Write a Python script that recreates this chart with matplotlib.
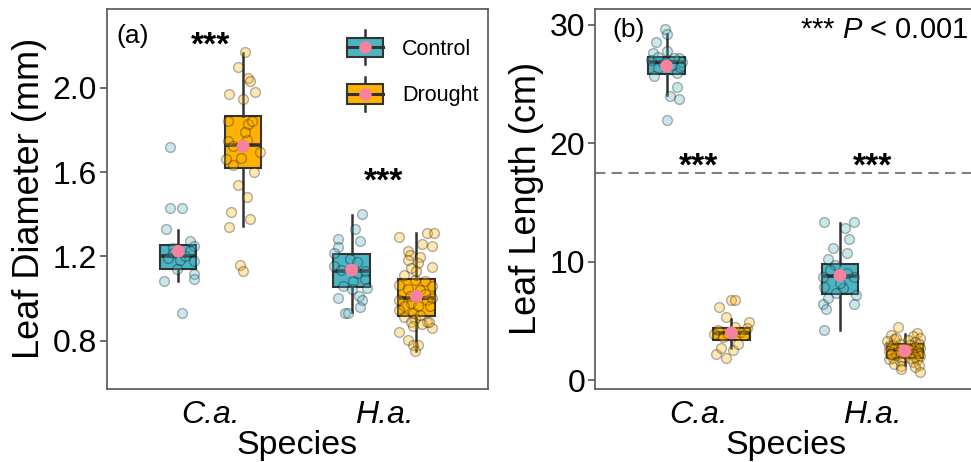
# Leaf diameter / leaf length under control vs drought, two species
import matplotlib
matplotlib.use('Agg')
import matplotlib.pyplot as plt
from matplotlib.legend_handler import HandlerBase
from matplotlib.patches import Rectangle, Patch
from matplotlib.lines import Line2D

plt.rcParams['font.family'] = ['Liberation Sans', 'DejaVu Sans']
plt.rcParams['mathtext.fontset'] = 'custom'
plt.rcParams['mathtext.rm'] = 'Liberation Sans'
plt.rcParams['mathtext.it'] = 'Liberation Sans:italic'

species = ['C.a.', 'H.a.']
treatments = ['Control', 'Drought']

# ---- box statistics: [C.a., H.a.] ----
# (a) leaf diameter, mm
dia_ctrl_whislo = [1.081, 0.934]
dia_ctrl_q1 = [1.140, 1.055]
dia_ctrl_med = [1.200, 1.132]
dia_ctrl_q3 = [1.252, 1.211]
dia_ctrl_whishi = [1.327, 1.398]
dia_ctrl_mean = [1.224, 1.135]

dia_drt_whislo = [1.343, 0.749]
dia_drt_q1 = [1.620, 0.918]
dia_drt_med = [1.727, 1.002]
dia_drt_q3 = [1.868, 1.093]
dia_drt_whishi = [2.166, 1.311]
dia_drt_mean = [1.723, 1.010]

# (b) leaf length, cm
len_ctrl_whislo = [24.09, 4.23]
len_ctrl_q1 = [25.87, 7.27]
len_ctrl_med = [26.90, 8.79]
len_ctrl_q3 = [27.30, 9.80]
len_ctrl_whishi = [29.20, 13.30]
len_ctrl_mean = [26.52, 8.85]

len_drt_whislo = [2.68, 1.27]
len_drt_q1 = [3.38, 1.92]
len_drt_med = [3.95, 2.54]
len_drt_q3 = [4.42, 3.04]
len_drt_whishi = [5.21, 3.94]
len_drt_mean = [4.00, 2.48]

# ---- individual observations (value, jitter offset) ----
dia_ca_ctrl = [1.72, 1.43, 1.43, 1.33, 1.271, 1.25, 1.24, 1.216, 1.224, 1.184,
               1.176, 1.14, 1.118, 1.094, 1.081, 0.93, 1.20, 1.19]
dia_ca_ctrl_jit = [-0.05, -0.05, 0.02, -0.07, 0.07, 0.09, -0.03, -0.03, 0.07, 0.01,
                   0.09, -0.01, 0.09, 0.09, -0.08, 0.02, 0.04, -0.06]
dia_ca_drt = [2.171, 2.10, 2.048, 2.031, 1.972, 1.949, 1.981, 1.841, 1.83, 1.841,
              1.746, 1.723, 1.667, 1.696, 1.663, 1.636, 1.599, 1.54, 1.48, 1.411,
              1.379, 1.34, 1.16, 1.13, 1.754, 1.79]
dia_ca_drt_jit = [0.01, -0.03, 0.03, 0.04, -0.08, 0.0, 0.07, -0.09, 0.03, 0.05,
                  -0.09, -0.06, -0.01, 0.10, -0.10, -0.06, 0.06, -0.03, 0.02, -0.07,
                  0.04, -0.08, -0.02, 0.0, 0.02, 0.01]
dia_ha_ctrl = [1.40, 1.331, 1.284, 1.271, 1.243, 1.216, 1.189, 1.173, 1.152, 1.133,
               1.094, 1.081, 1.06, 1.05, 1.045, 1.002, 1.013, 0.994, 0.96, 0.93,
               0.93, 1.121, 1.129]
dia_ha_ctrl_jit = [0.06, 0.02, -0.08, 0.05, -0.08, -0.10, -0.01, 0.03, -0.10, -0.06,
                   0.08, 0.01, -0.05, 0.09, 0.0, -0.08, 0.04, 0.06, 0.05, -0.04,
                   -0.02, 0.03, 0.08]
dia_ha_drt = [1.292, 1.311, 1.311, 1.258, 1.25, 1.224, 1.208, 1.197, 1.184, 1.168,
              1.145, 1.15, 1.129, 1.113, 1.089, 1.081, 1.066, 1.06, 1.045, 1.038,
              0.994, 0.994, 1.002, 0.979, 0.963, 0.963, 0.963, 0.944, 0.93, 0.914,
              0.901, 0.89, 0.89, 0.861, 0.843, 0.867, 0.88, 0.804, 0.781, 0.781,
              0.749, 0.89, 1.02, 1.01, 0.92]
dia_ha_drt_jit = [-0.10, 0.06, 0.10, 0.03, 0.09, -0.05, -0.04, 0.02, -0.05, 0.01,
                  -0.03, 0.09, 0.0, -0.07, -0.01, 0.05, -0.10, 0.09, -0.05, 0.02,
                  -0.10, 0.06, 0.09, -0.03, -0.07, 0.01, 0.08, -0.10, -0.02, -0.07,
                  -0.01, 0.06, -0.03, 0.09, -0.10, -0.02, 0.03, -0.05, 0.01, -0.02,
                  -0.01, 0.07, 0.05, -0.04, 0.02]

len_ca_ctrl = [29.64, 29.22, 28.54, 27.6, 27.75, 27.19, 27.05, 26.9, 26.35, 25.92,
               25.64, 24.74, 23.75, 23.95, 21.98, 26.8, 26.6, 26.4, 27.2, 27.3]
len_ca_ctrl_jit = [-0.01, 0.0, -0.06, -0.08, 0.0, 0.07, -0.09, 0.09, -0.05, 0.06,
                   -0.07, 0.06, 0.07, 0.02, 0.0, -0.02, 0.03, 0.08, 0.04, -0.05]
len_ca_drt = [6.2, 6.76, 6.76, 5.35, 4.93, 4.23, 4.37, 2.54, 2.25, 1.92,
              2.68, 3.1, 4.08, 3.66, 3.94, 3.8, 3.94, 4.5]
len_ca_drt_jit = [-0.07, 0.0, 0.02, -0.03, 0.10, -0.08, 0.09, 0.01, -0.09, -0.03,
                  -0.06, 0.04, 0.05, -0.05, -0.02, 0.07, -0.10, 0.02]
len_ha_ctrl = [13.33, 13.33, 12.82, 11.92, 11.13, 10.71, 10.2, 9.72, 8.73, 8.73,
               7.89, 7.75, 7.19, 7.33, 6.42, 6.42, 6.9, 5.98, 4.23, 9.3,
               9.02, 8.17]
len_ha_ctrl_jit = [-0.09, 0.08, 0.03, 0.05, -0.04, 0.04, -0.07, -0.03, -0.10, 0.08,
                   -0.09, 0.02, 0.09, -0.02, -0.10, 0.08, -0.07, -0.08, -0.09, -0.06,
                   0.04, 0.0]
len_ha_drt = [4.51, 3.95, 3.8, 3.7, 3.6, 3.5, 3.4, 3.3, 3.2, 3.1,
              3.05, 3.0, 2.95, 2.9, 2.8, 2.75, 2.7, 2.6, 2.55, 2.5,
              2.45, 2.4, 2.35, 2.3, 2.25, 2.2, 2.1, 2.05, 2.0, 1.95,
              1.9, 1.85, 1.8, 1.7, 1.6, 1.5, 1.4, 1.3, 1.2, 1.12,
              0.99, 0.7, 3.6, 2.6, 2.2]
len_ha_drt_jit = [-0.04, 0.07, -0.08, 0.05, 0.09, -0.06, 0.02, -0.10, 0.06, -0.03,
                  0.08, -0.07, 0.03, -0.09, 0.06, -0.02, 0.09, -0.06, 0.04, -0.09,
                  0.07, -0.04, 0.01, 0.08, -0.08, 0.05, -0.05, 0.09, -0.01, 0.06,
                  -0.07, 0.03, -0.09, 0.07, -0.03, 0.05, -0.06, 0.08, -0.02, 0.06,
                  -0.02, 0.09, -0.05, 0.02, -0.08]

CTRL = '#4CB5C4'
DRT = '#FFB300'
MEAN = '#F7829F'
EDGE = '#333333'
SPINE = '#555555'
DODGE = 0.187
BOXW = 0.21


def box_stats(lo, q1, med, q3, hi, mean):
    return [dict(whislo=lo[i], q1=q1[i], med=med[i], q3=q3[i], whishi=hi[i],
                 mean=mean[i], fliers=[]) for i in range(len(lo))]


def draw_group(ax, stats, pos, color, obs, jits):
    ax.bxp(stats, positions=pos, widths=BOXW, patch_artist=True,
           showfliers=False, showcaps=False, showmeans=False,
           boxprops=dict(facecolor=color, edgecolor=EDGE, linewidth=1.5),
           medianprops=dict(color=EDGE, linewidth=2.6),
           whiskerprops=dict(color=EDGE, linewidth=1.8), zorder=2)
    for p, vals, jit in zip(pos, obs, jits):
        ax.scatter([p + j for j in jit], vals, s=50, facecolor=color,
                   edgecolor='black', linewidths=1.0, alpha=0.3, zorder=3)
    ax.scatter(pos, [s['mean'] for s in stats], s=85, color=MEAN,
               edgecolor='none', zorder=4)


class BoxHandler(HandlerBase):
    def create_artists(self, legend, orig_handle, xdescent, ydescent,
                       width, height, fontsize, trans):
        fc = orig_handle.get_facecolor()
        x0, y0 = -xdescent, -ydescent
        cx, cy = x0 + width / 2, y0 + height / 2
        whisk = Line2D([cx, cx], [y0 - 0.38 * height, y0 + 1.38 * height],
                       color=EDGE, lw=1.8, transform=trans)
        box = Rectangle((x0, y0), width, height, facecolor=fc, edgecolor=EDGE,
                        lw=1.5, transform=trans)
        med = Line2D([x0, x0 + width], [cy, cy], color=EDGE, lw=2.2,
                     transform=trans)
        dot = Line2D([cx], [cy], marker='o', ms=9, color=MEAN, lw=0,
                     markeredgewidth=0, transform=trans)
        return [whisk, box, med, dot]


def style_axes(ax, ylabel, yticks, ylim):
    ax.set_xlim(0.4, 2.6)
    ax.set_ylim(*ylim)
    ax.set_xticks([1, 2])
    ax.set_xticklabels(species, style='italic')
    ax.set_yticks(yticks)
    ax.tick_params(axis='x', length=0, pad=8, labelsize=23)
    ax.tick_params(axis='y', length=5, width=1.2, color=SPINE, pad=2,
                   labelsize=23)
    for sp in ax.spines.values():
        sp.set_color(SPINE)
        sp.set_linewidth(1.2)
    ax.set_xlabel('Species', fontsize=24.5, labelpad=0)
    ax.set_ylabel(ylabel, fontsize=26, labelpad=4)


fig = plt.figure(figsize=(9.71, 4.62), dpi=100)
ax1 = fig.add_axes([0.1099, 0.159, 0.3927, 0.8214])
ax2 = fig.add_axes([0.6128, 0.159, 0.3927, 0.8214])

pos_ctrl = [1 - DODGE, 2 - DODGE]
pos_drt = [1 + DODGE, 2 + DODGE]

# (a) leaf diameter
draw_group(ax1, box_stats(dia_ctrl_whislo, dia_ctrl_q1, dia_ctrl_med, dia_ctrl_q3,
                          dia_ctrl_whishi, dia_ctrl_mean),
           pos_ctrl, CTRL, [dia_ca_ctrl, dia_ha_ctrl], [dia_ca_ctrl_jit, dia_ha_ctrl_jit])
draw_group(ax1, box_stats(dia_drt_whislo, dia_drt_q1, dia_drt_med, dia_drt_q3,
                          dia_drt_whishi, dia_drt_mean),
           pos_drt, DRT, [dia_ca_drt, dia_ha_drt], [dia_ca_drt_jit, dia_ha_drt_jit])
style_axes(ax1, 'Leaf Diameter (mm)', [0.8, 1.2, 1.6, 2.0], (0.572, 2.375))
ax1.set_yticklabels(['0.8', '1.2', '1.6', '2.0'])
ax1.text(1, 2.20, '***', ha='center', va='center', fontsize=24, fontweight='bold')
ax1.text(2, 1.555, '***', ha='center', va='center', fontsize=24, fontweight='bold')
ax1.text(0.025, 0.93, '(a)', transform=ax1.transAxes, ha='left', va='center',
         fontsize=19)
handles = [Patch(facecolor=CTRL), Patch(facecolor=DRT)]
ax1.legend(handles, treatments, handler_map={Patch: BoxHandler()},
           loc='upper left', bbox_to_anchor=(0.63, 0.925), frameon=False,
           fontsize=15.5, handlelength=1.67, handleheight=1.0,
           labelspacing=1.15, handletextpad=0.9, borderpad=0, borderaxespad=0)

# (b) leaf length
draw_group(ax2, box_stats(len_ctrl_whislo, len_ctrl_q1, len_ctrl_med, len_ctrl_q3,
                          len_ctrl_whishi, len_ctrl_mean),
           pos_ctrl, CTRL, [len_ca_ctrl, len_ha_ctrl], [len_ca_ctrl_jit, len_ha_ctrl_jit])
draw_group(ax2, box_stats(len_drt_whislo, len_drt_q1, len_drt_med, len_drt_q3,
                          len_drt_whishi, len_drt_mean),
           pos_drt, DRT, [len_ca_drt, len_ha_drt], [len_ca_drt_jit, len_ha_drt_jit])
style_axes(ax2, 'Leaf Length (cm)', [0, 10, 20, 30], (-0.7, 31.33))
ax2.axhline(17.5, color='#808080', lw=1.5, dashes=(5, 3), zorder=1)
ax2.text(1, 18.0, '***', ha='center', va='center', fontsize=24, fontweight='bold')
ax2.text(2, 18.0, '***', ha='center', va='center', fontsize=24, fontweight='bold')
ax2.text(0.045, 0.945, '(b)', transform=ax2.transAxes, ha='left', va='center',
         fontsize=19)
fig.text(0.997, 0.935, r'*** $P$ < 0.001', ha='right', va='center', fontsize=21)

fig.savefig('out.png', dpi=100)
